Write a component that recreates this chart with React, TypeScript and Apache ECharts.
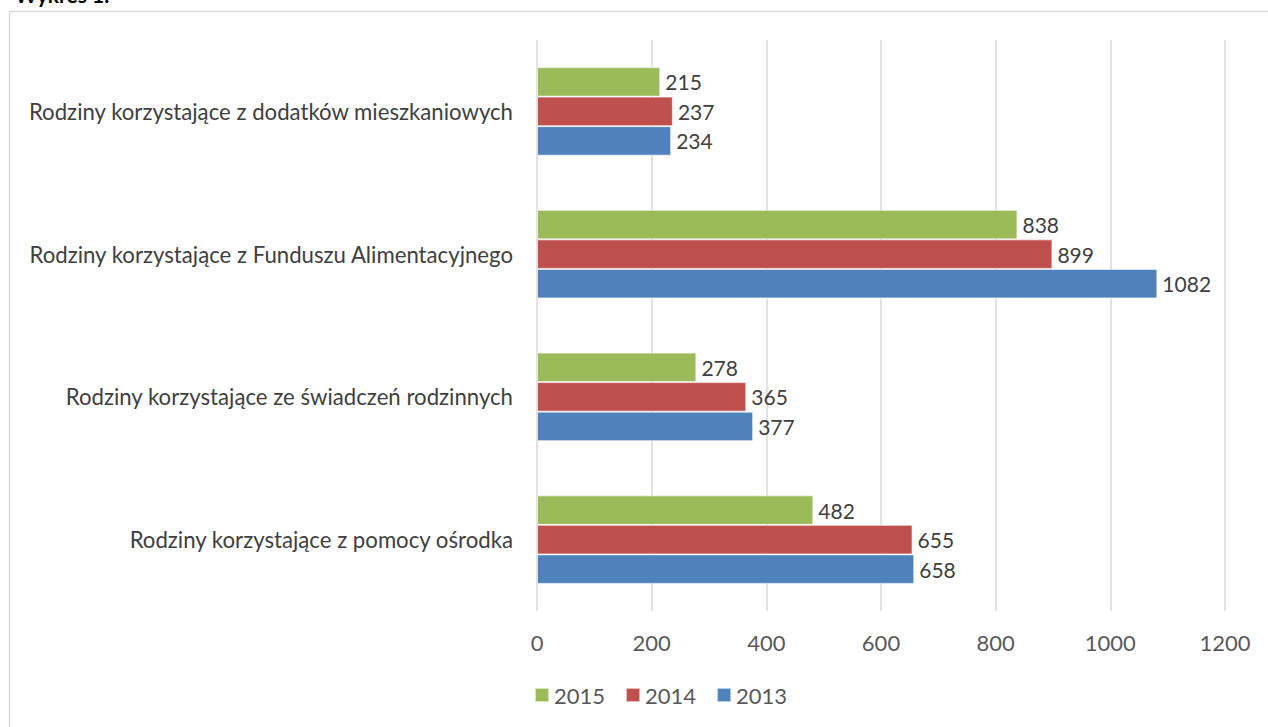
import React, { useEffect, useRef } from "react";
import * as echarts from "echarts";

const categories = [
  "Rodziny korzystające z pomocy ośrodka",
  "Rodziny korzystające ze świadczeń rodzinnych",
  "Rodziny korzystające z Funduszu Alimentacyjnego",
  "Rodziny korzystające z dodatków mieszkaniowych",
];
const values2013 = [658, 377, 1082, 234];
const values2014 = [655, 365, 899, 237];
const values2015 = [482, 278, 838, 215];
const legendOrder = ["2015", "2014", "2013"];
const FONT = "Lato, 'Liberation Sans', sans-serif";

export default function App() {
  const ref = useRef<HTMLDivElement>(null);
  useEffect(() => {
    if (!ref.current) return;
    const chart = echarts.init(ref.current, null, { renderer: "svg" });
    const label = {
      show: true,
      position: "right" as const,
      distance: 5,
      color: "#404040",
      fontSize: 21,
      fontFamily: FONT,
    };
    const mk = (name: string, data: number[], color: string) => ({
      name,
      type: "bar" as const,
      data,
      barGap: "0%",
      barCategoryGap: "38%",
      itemStyle: { color, borderColor: "rgba(255,255,255,0.6)", borderWidth: 1 },
      label,
    });
    chart.setOption({
      animation: false,
      textStyle: { fontFamily: FONT },
      graphic: [
        {
          type: "text",
          left: 15,
          top: -16,
          style: { text: "Wykres 1.", font: "bold 21px " + FONT, fill: "#000" },
        },
        {
          type: "rect",
          shape: { x: 9.5, y: 11.5, width: 1300, height: 800 },
          style: { fill: "none", stroke: "#d9d9d9", lineWidth: 1.5 },
        },
      ],
      grid: { left: 537, right: 43, top: 40, bottom: 116 },
      legend: {
        data: legendOrder,
        top: 679,
        left: 529,
        itemWidth: 14,
        itemHeight: 14,
        itemGap: 20,
        icon: "rect",
        textStyle: { fontSize: 22, color: "#595959", fontFamily: FONT },
      },
      xAxis: {
        type: "value",
        min: 0,
        max: 1200,
        interval: 200,
        axisLine: { show: false },
        axisTick: { show: false },
        splitLine: { lineStyle: { color: "#d9d9d9", width: 1.5 } },
        axisLabel: {
          color: "#595959",
          fontSize: 22,
          margin: 20,
          fontFamily: FONT,
          formatter: (v: number) => String(v),
        },
      },
      yAxis: {
        type: "category",
        data: categories,
        axisLine: { show: false },
        axisTick: { show: false },
        axisLabel: { color: "#404040", fontSize: 22.2, margin: 24, fontFamily: FONT },
      },
      series: [
        mk("2015", values2015, "#9BBB59"),
        mk("2014", values2014, "#C0504D"),
        mk("2013", values2013, "#4F81BD"),
      ],
    });
    return () => chart.dispose();
  }, []);
  return (
    <div
      ref={ref}
      style={{ position: "fixed", left: 0, top: 0, width: 1268, height: 727, background: "#fff" }}
    />
  );
}
